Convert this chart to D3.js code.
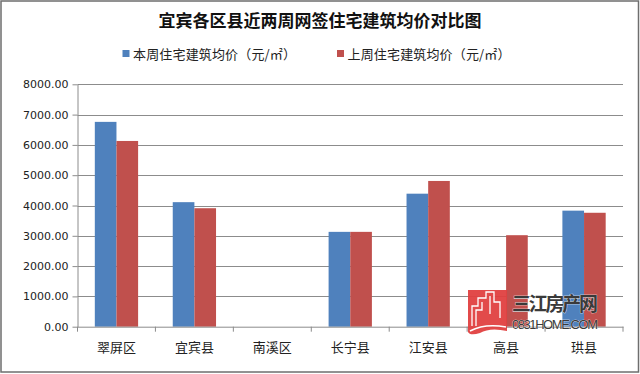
<!DOCTYPE html>
<html><head><meta charset="utf-8">
<script src="https://cdn.jsdelivr.net/npm/d3@7"></script>
<style>body{margin:0;background:#fff}svg{display:block}</style>
</head><body>
<script>
const categories = ["翠屏区","宜宾县","南溪区","长宁县","江安县","高县","珙县"];
const seriesNames = ["本周住宅建筑均价（元/㎡）","上周住宅建筑均价（元/㎡）"];
const thisWeek = [6760, 4110, 0, 3130, 4390, 0, 3830];
const lastWeek = [6130, 3910, 0, 3130, 4810, 3020, 3760];
const yTicks = [0,1000,2000,3000,4000,5000,6000,7000,8000];
const colors = ["#4F81BD","#C0504D"];
const title = "宜宾各区县近两周网签住宅建筑均价对比图";

(function(){
const W=640,H=374;
const svg=d3.select("body").append("svg").attr("width",W).attr("height",H);
svg.append("rect").attr("x",1).attr("y",1).attr("width",W-2.5).attr("height",H-3).attr("fill","#fff").attr("stroke","#6e6e6e").attr("stroke-width",1.5);

const pl=77.5,pr=623,pt=84.3,pb=326.7;
const x0=d3.scaleBand().domain(categories).range([pl,pr]).paddingInner(0).paddingOuter(0);
const x1=d3.scaleBand().domain([0,1]).range([0,x0.bandwidth()]).paddingInner(0).paddingOuter(0.8);
const y=d3.scaleLinear().domain([0,8000]).range([pb,pt]);

// gridlines
svg.append("g").selectAll("line").data(yTicks.filter(t=>t>0)).join("line")
 .attr("x1",pl).attr("x2",pr).attr("y1",d=>Math.round(y(d))+0.5).attr("y2",d=>Math.round(y(d))+0.5)
 .attr("stroke","#8c8c8c").attr("stroke-width",1);

// y axis
const ya=svg.append("g").attr("transform",`translate(${pl},0)`)
 .call(d3.axisLeft(y).tickValues(yTicks).tickFormat(d3.format(".2f")).tickSize(5).tickSizeOuter(0));
ya.select(".domain").attr("stroke","#8c8c8c");
ya.selectAll(".tick line").attr("stroke","#8c8c8c");
ya.selectAll("text").attr("font-family","DejaVu Sans, Verdana, sans-serif").attr("font-size",11).attr("fill","#222").attr("x",-9);

// bars
const data=[thisWeek,lastWeek];
const g=svg.append("g");
data.forEach((vals,si)=>{
 g.append("g").selectAll("rect").data(vals.map((v,i)=>({c:categories[i],v}))).join("rect")
  .attr("x",d=>x0(d.c)+x1(si)).attr("width",x1.bandwidth())
  .attr("y",d=>y(d.v)).attr("height",d=>pb-y(d.v)).attr("fill",colors[si]);
});

// x axis
const xa=svg.append("g").attr("transform",`translate(0,${pb})`)
 .call(d3.axisBottom(x0).tickSize(0).tickSizeOuter(0));
xa.select(".domain").attr("stroke","#8c8c8c");
xa.selectAll("text").attr("font-family","Noto Sans CJK SC, sans-serif").attr("font-size",13).attr("fill","#222").attr("y",25.5).attr("dy",0);
svg.append("g").selectAll("line").data(d3.range(categories.length+1)).join("line")
 .attr("x1",i=>pl+i*x0.step()).attr("x2",i=>pl+i*x0.step())
 .attr("y1",pb).attr("y2",pb+5).attr("stroke","#8c8c8c");

// title
svg.append("text").attr("x",320).attr("y",27).attr("text-anchor","middle")
 .attr("font-family","Noto Sans CJK SC, sans-serif").attr("font-weight","bold").attr("font-size",17).attr("fill","#111").text(title);

// legend
const legX=[122.5,337];
seriesNames.forEach((n,i)=>{
 svg.append("rect").attr("x",legX[i]).attr("y",50).attr("width",7).attr("height",7).attr("fill",colors[i]);
 svg.append("text").attr("x",legX[i]+10.5).attr("y",58.5).attr("font-family","Noto Sans CJK SC, sans-serif")
  .attr("font-size",13).attr("fill","#222").attr("textLength",163).text(n);
});

// watermark
const wm=svg.append("g");
wm.append("path").attr("d","M468,290 H507 V331 Q490,327 480,333 Q470,336 468,332 Z").attr("fill","#e04040").attr("opacity",0.95);
wm.append("path").attr("d","M472,326 V306 H478 V298 H486 V292 H494 V302 H500 V318 M476,326 V310 H482 V302 M490,296 V314")
 .attr("fill","none").attr("stroke","#fff").attr("stroke-width",1.3);
wm.append("path").attr("d","M470,331 Q485,323 506,327").attr("fill","none").attr("stroke","#fff").attr("stroke-width",1.5);
wm.append("text").attr("x",512).attr("y",311).attr("font-family","Noto Sans CJK SC, sans-serif").attr("font-weight","bold")
 .attr("font-size",19).attr("fill","#3a3a3a").attr("stroke","#fff").attr("stroke-width",0.6).attr("paint-order","stroke")
 .attr("textLength",86).text("三江房产网");
wm.append("text").attr("x",512).attr("y",329).attr("font-family","Liberation Sans Narrow, Liberation Sans, sans-serif")
 .attr("font-size",13).attr("fill","#3a3a3a").attr("stroke","#fff").attr("stroke-width",0.5).attr("paint-order","stroke")
 .attr("textLength",86).text("0831HOME.COM");
})();
</script>
</body></html>
